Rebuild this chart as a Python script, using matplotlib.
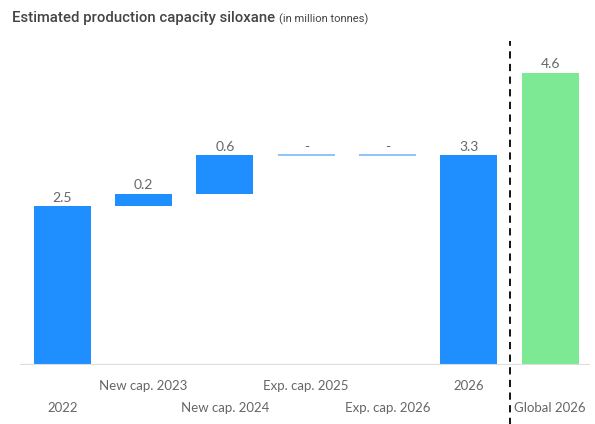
import matplotlib
matplotlib.use("Agg")
import matplotlib.pyplot as plt
import numpy as np

categories = ["2022", "New cap. 2023", "New cap. 2024", "Exp. cap. 2025",
              "Exp. cap. 2026", "2026", "Global 2026"]
values = [2.5, 0.2, 0.6, 0.0, 0.0, 3.3, 4.6]
kinds = ["total", "step", "step", "step", "step", "total", "global"]
value_labels = ["2.5", "0.2", "0.6", "-", "-", "3.3", "4.6"]

blue = "#1f8fff"
green = "#7de995"
grey = "#666666"

plt.rcParams["font.family"] = ["Lato", "DejaVu Sans"]

fig = plt.figure(figsize=(5.95, 4.24), dpi=100)
ax = fig.add_axes([20 / 595, 59 / 424, 570 / 595, 317.5 / 424])

x = np.arange(len(categories))
running = 0.0
for i, (v, k) in enumerate(zip(values, kinds)):
    if k == "step":
        bottom = running
        running += v
    else:
        bottom = 0
        if k == "total":
            running = v
    col = green if k == "global" else blue
    top = bottom + v
    if v == 0:
        ax.hlines(top, i - 0.35, i + 0.35, color="#7db9f5", lw=1.2)
    else:
        ax.bar(i, v, bottom=bottom, width=0.7, color=col)
    ax.text(i, top + 0.04, value_labels[i], ha="center", va="bottom",
            fontsize=10, color=grey)

ax.set_xlim(-0.52, 6.49)
ax.set_ylim(0, 5)
for s in ax.spines.values():
    s.set_visible(False)
ax.axhline(0, color="#dddddd", lw=1.5)
ax.set_xticks([])
ax.set_yticks([])

# staggered category labels
for i, c in enumerate(categories):
    yy = -0.33 if i % 2 else -0.67
    ax.text(i, yy, c, ha="center", va="center", fontsize=9.5, color=grey)

# dashed separator
ax.plot([5.5, 5.5], [-1.0, 5.1], color="black", lw=1.3,
        ls=(0, (4, 3)), clip_on=False)

title = fig.text(12 / 595, 1 - 22 / 424, "Estimated production capacity siloxane",
                 fontsize=10.7, color="#444444", fontweight="medium",
                 family=["Roboto", "DejaVu Sans"], va="baseline")
fig.canvas.draw()
ax.annotate("(in million tonnes)", xy=(1, 0), xycoords=title,
            xytext=(3, 0), textcoords="offset points", va="bottom",
            fontsize=8, color="#444444", family=["Roboto", "DejaVu Sans"],
            annotation_clip=False)

fig.savefig("out.png", dpi=100)
